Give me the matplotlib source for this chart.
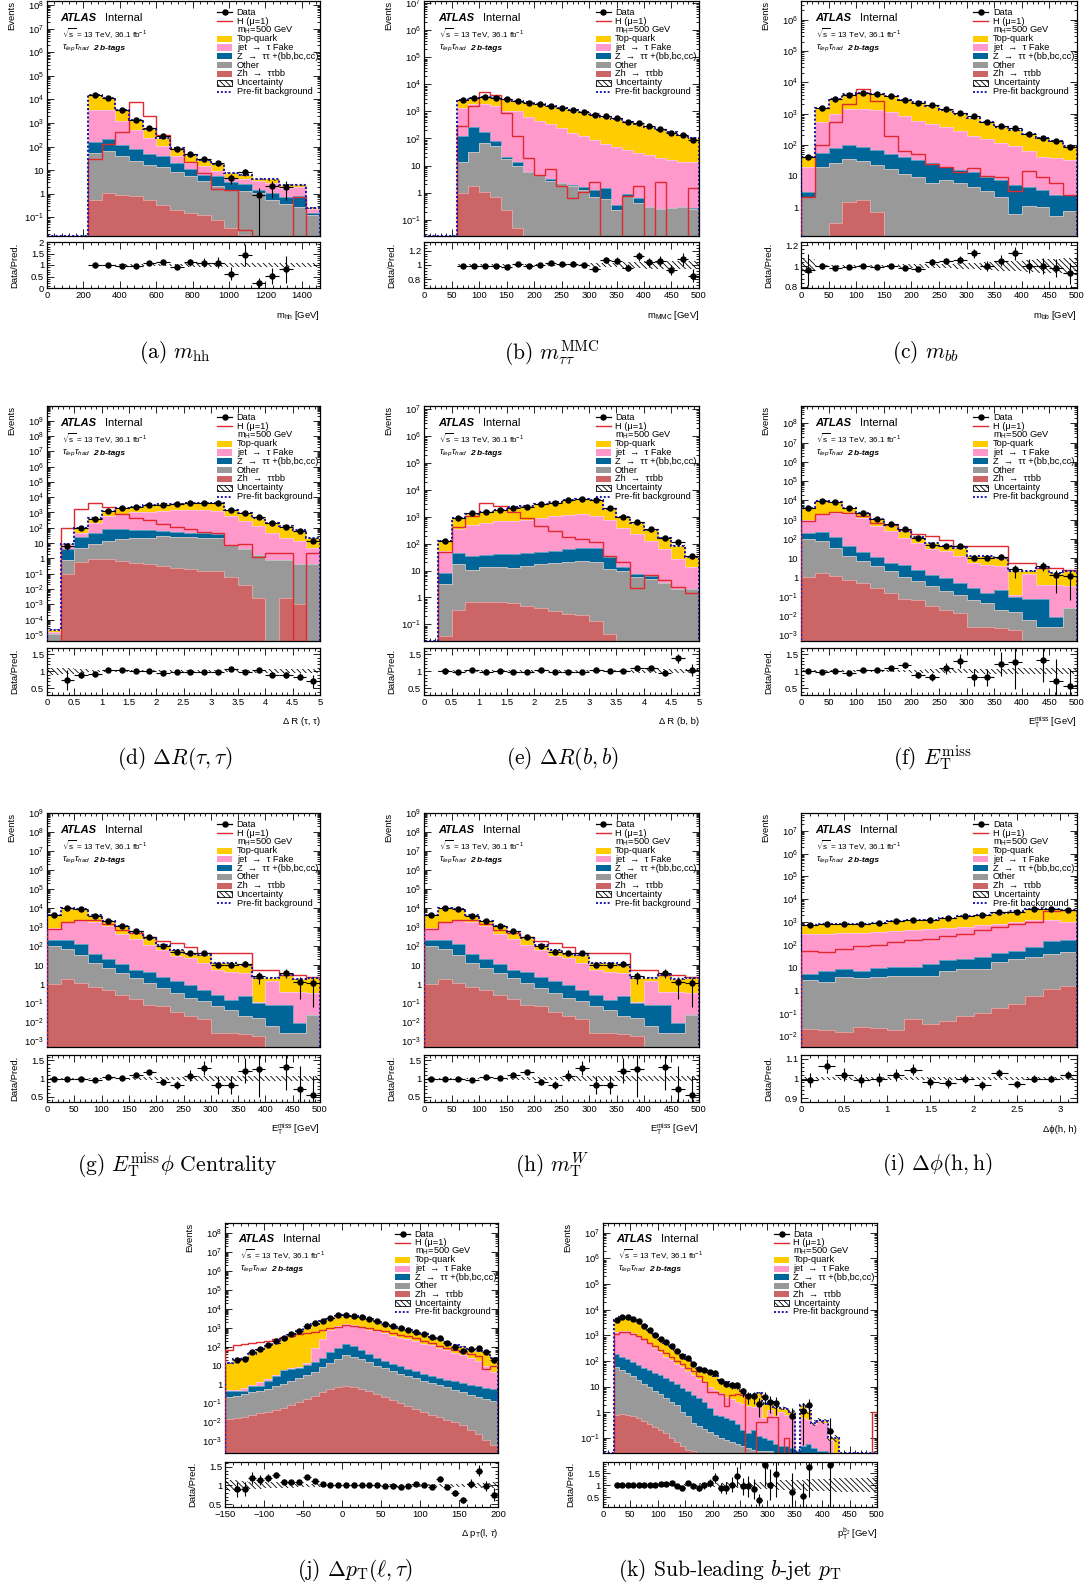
"""ATLAS-style stacked background plots, lep-had 2 b-tag region (11 panels)."""

import numpy as np
import matplotlib

matplotlib.use("Agg")
import matplotlib.pyplot as plt
import matplotlib.colors as mcolors
from matplotlib.lines import Line2D
from matplotlib.patches import Rectangle
from matplotlib.ticker import (AutoMinorLocator, FixedLocator, FuncFormatter,
                               LogLocator, MultipleLocator, NullFormatter)

plt.rcParams["font.family"] = ["Liberation Sans", "DejaVu Sans"]
plt.rcParams["mathtext.fontset"] = "custom"
plt.rcParams["mathtext.rm"] = "Liberation Sans"
plt.rcParams["mathtext.it"] = "Liberation Sans:italic"
plt.rcParams["mathtext.bf"] = "Liberation Sans:bold"
plt.rcParams["hatch.linewidth"] = 0.6

nan = np.nan

# ---- values ------------------------------------------------------------------
# each *_TOP/_FAKE/_ZTT/_OTHER/_ZH array is the upper edge of that stacked layer
# (Top-quark on top, then jet->tau fake, Z->tautau+hf, Other, Zh at the bottom)

# (a) m_hh
A_EDGES = np.linspace(0, 1500, 21)
A_TOP = [0, 0, 0, 15000, 11700, 3700, 1350, 550, 240, 85, 44, 27, 17.5, 7.7, 6.1, 4.4, 4.0, 2.4, 2.4, 0.24]
A_FAKE = [0, 0, 0, 3700, 3600, 1250, 520, 220, 107, 40, 20, 15, 9, 4.7, 4, 3.4, 2.9, 1.75, 1.9, 0.22]
A_ZTT = [0, 0, 0, 160, 205, 118, 77, 50, 40, 20, 10.7, 6.5, 5.5, 3.1, 2.7, 1.5, 1.07, 0.72, 0.77, 0.15]
A_OTHER = [0, 0, 0, 55, 65, 40, 25, 17, 13, 8, 5.5, 3.4, 2.1, 1.5, 1.3, 1.1, 0.55, 0.37, 0.28, 0.12]
A_ZH = [0, 0, 0, 0.55, 1.05, 0.9, 0.77, 0.55, 0.34, 0.2, 0.15, 0.12, 0.08, 0.034, 0.017, 0, 0, 0, 0, 0]
A_SIG = [0, 0, 0, 31, 125, 400, 8000, 2000, 300, 80, 22, 7.7, 1.6, 1.4, 0.03, 0, 0, 0, 0.72, 0]
A_RATIO = [nan, nan, nan, 1.0, 1.0, 0.97, 0.97, 1.1, 1.15, 0.93, 1.12, 1.1, 1.1, 0.62, 1.42, 0.2, 0.52, 0.82, nan, nan]
A_UNC = [0, 0, 0, 0.02, 0.02, 0.03, 0.03, 0.04, 0.05, 0.06, 0.08, 0.08, 0.08, 0.09, 0.1, 0.1, 0.1, 0.1, 0.1, 0.1]

# (b) m_MMC
B_EDGES = np.linspace(0, 500, 26)
B_TOP = [0, 0, 0, 2600, 3100, 3400, 3300, 2900, 2500, 2150, 1850, 1550, 1300, 1100, 930, 780, 640, 520, 420,
         340, 270, 210, 170, 130, 100]
B_FAKE = [0, 0, 0, 1330, 1950, 1950, 1580, 1080, 1000, 600, 440, 330, 245, 165, 122, 86, 64, 48, 37, 30, 24,
          19.5, 16, 13.6, 13]
B_ZTT = [0, 0, 0, 120, 265, 176, 78, 21, 13.6, 5.7, 4.5, 3.2, 2.1, 1.9, 1.55, 1.26, 1.5, 0.36, 0.86, 0.65,
         0.3, 0.25, 0.28, 0.3, 0.28]
B_OTHER = [0, 0, 0, 13.6, 32, 67, 55, 18, 10, 5.7, 4.3, 2.8, 2.25, 1.7, 1.26, 0.7, 0.56, 0.23, 0.75, 0.42,
           0.3, 0.25, 0.27, 0.3, 0.25]
B_ZH = [0, 0, 0, 0.95, 1.8, 1.1, 0.68, 0.23, 0.05, 0, 0, 0, 0, 0, 0, 0, 0, 0, 0, 0, 0, 0, 0, 0, 0]
B_SIG = [0, 0, 0, 290, 1650, 5200, 3900, 850, 120, 19, 4.5, 7.2, 1.8, 0.65, 1.06, 2.4, 0, 0, 0.75, 1.8, 0,
         2.4, 0, 0, 1.5]
B_RATIO = [nan, nan, nan, 0.98, 0.98, 0.98, 0.99, 0.97, 1.01, 0.99, 1.0, 1.03, 1.02, 1.02, 1.0, 0.95, 1.07,
           1.06, 0.96, 1.12, 1.04, 1.05, 0.93, 1.08, 0.85]
B_UNC = [0, 0, 0, 0.01, 0.01, 0.01, 0.01, 0.01, 0.01, 0.01, 0.015, 0.015, 0.02, 0.02, 0.02, 0.03, 0.03, 0.03,
         0.04, 0.04, 0.05, 0.05, 0.06, 0.06, 0.06]

# (c) m_bb
C_EDGES = np.linspace(0, 500, 21)
C_TOP = [42, 1500, 3000, 4100, 4600, 4300, 3600, 2800, 2300, 1750, 1300, 1000, 720, 520, 380, 300, 215, 170, 130, 90]
C_FAKE = [20, 520, 1000, 1400, 1400, 1300, 1100, 860, 590, 460, 360, 280, 190, 150, 115, 90, 62, 42, 37, 33]
C_ZTT = [3.1, 55, 80, 97, 86, 67, 52, 42, 33, 26, 20, 16, 13, 9.5, 7.4, 5.1, 4.5, 3.5, 2.4, 2.4]
C_OTHER = [2.1, 19, 26, 35, 31, 22, 17, 12, 9.5, 6.1, 7.4, 5.8, 4.5, 3.2, 2.1, 0.6, 1.1, 1.0, 0.53, 0.78]
C_ZH = [0, 0, 0.32, 1.5, 1.7, 0.72, 0, 0, 0, 0, 0, 0, 0, 0, 0, 0, 0, 0, 0, 0]
C_SIG = [2.1, 100, 520, 2000, 6300, 2450, 190, 62, 52, 25, 20, 13, 18, 10, 9.5, 3.3, 14, 9.5, 5.8, 2.4]
C_RATIO = [0.96, 1.0, 0.98, 0.99, 1.0, 0.99, 1.0, 0.98, 0.97, 1.04, 1.05, 1.06, 1.12, 1.0, 1.05, 1.12, 1.0, 1.0,
           0.98, 0.93]
C_UNC = [0.07, 0.01, 0.01, 0.01, 0.01, 0.01, 0.01, 0.015, 0.015, 0.02, 0.02, 0.03, 0.03, 0.04, 0.045, 0.05,
         0.06, 0.07, 0.07, 0.08]

# (d) Delta R(tau, tau)
D_EDGES = np.linspace(0, 5, 21)
D_TOP = [2.2e-5, 8.3, 100, 420, 1250, 1900, 2300, 2900, 3400, 3800, 4200, 4400, 4000, 1450, 880, 460, 215, 130, 68, 20]
D_FAKE = [1.5e-5, 7, 48, 190, 590, 760, 1000, 1080, 1250, 1400, 1400, 1400, 1250, 590, 280, 130, 48, 22, 13.6, 5]
D_ZTT = [1.2e-5, 3.9, 25, 48, 80, 80, 68, 68, 62, 53, 48, 43, 41, 8, 3.9, 1.6, 0.74, 0.74, 0.4, 0.45]
D_OTHER = [1.2e-5, 0.78, 5, 9, 13.6, 19, 22, 22, 29, 26, 26, 22, 20, 7.5, 3.9, 1.6, 0.74, 0.74, 0.4, 0.45]
D_ZH = [0, 0.1, 0.6, 0.86, 0.86, 0.67, 0.52, 0.4, 0.3, 0.25, 0.21, 0.16, 0.15, 0.063, 0.018, 0.0026, 0, 0.0026,
        0.0011, 0]
D_SIG = [0, 100, 1600, 4400, 2300, 760, 420, 310, 170, 120, 80, 53, 45, 8, 9, 1.2, 2.3, 2.3, 0, 2.3]
D_RATIO = [nan, 0.73, 0.9, 0.92, 1.03, 1.02, 1.0, 1.0, 0.96, 0.98, 0.99, 0.99, 0.98, 1.06, 0.99, 1.03, 0.89,
           0.89, 0.84, 0.7]
D_UNC = [0.1, 0.08, 0.05, 0.03, 0.02, 0.02, 0.02, 0.02, 0.02, 0.02, 0.02, 0.02, 0.02, 0.03, 0.03, 0.04, 0.05,
         0.05, 0.05, 0.05]

# (e) Delta R(b, b)
E_EDGES = np.linspace(0, 5, 21)
E_TOP = [0, 130, 920, 1300, 1500, 1800, 2200, 2400, 2900, 3400, 4100, 4400, 4100, 2000, 990, 580, 310, 165, 83, 33]
E_FAKE = [0, 55, 360, 480, 580, 700, 700, 780, 920, 1050, 1200, 1240, 1100, 740, 390, 220, 130, 64, 27, 14]
E_ZTT = [0, 8, 44, 36, 39, 42, 42, 44, 48, 55, 64, 70, 68, 31, 13, 7.4, 6, 3.3, 2, 2]
E_OTHER = [0, 3.2, 17, 10.5, 13, 14, 12.5, 14.5, 17.5, 19, 21.5, 23.5, 20, 11.5, 10, 5.6, 4.8, 3.3, 2, 2]
E_ZH = [0, 0.037, 0.33, 0.65, 0.7, 0.69, 0.6, 0.49, 0.4, 0.32, 0.25, 0.22, 0.13, 0.042, 0.025, 0, 0, 0, 0, 0]
E_SIG = [0, 50, 410, 1100, 3300, 2400, 1500, 920, 460, 285, 175, 150, 117, 36, 20, 2.2, 7, 4.6, 2.5, 1.5]
E_RATIO = [nan, 1.0, 0.98, 1.02, 0.99, 1.01, 0.99, 0.98, 1.02, 0.99, 0.99, 0.99, 1.02, 1.01, 1.0, 1.1, 1.1,
           0.95, 1.38, 1.03]
E_UNC = [0, 0.02, 0.02, 0.02, 0.02, 0.02, 0.02, 0.02, 0.02, 0.02, 0.02, 0.02, 0.02, 0.02, 0.03, 0.04, 0.05,
         0.05, 0.05, 0.06]

# (f), (g), (h) missing transverse energy
F_EDGES = np.linspace(0, 500, 21)
F_TOP = [4150, 9800, 8500, 4150, 2100, 1100, 560, 270, 120, 62, 41, 34, 12.5, 12.5, 10, 2.05, 2.2, 3.1, 1.8, 2.05]
F_FAKE = [940, 1900, 2300, 1900, 1150, 460, 250, 112, 62, 31, 23, 13.5, 5.6, 4.6, 3.7, 0.12, 1.5, 0.4, 0.4, 0.35]
F_ZTT = [205, 220, 127, 41, 20, 11.5, 5.6, 4.6, 2.5, 1.4, 0.92, 0.5, 0.28, 0.15, 0.23, 0.1, 0.077, 0.08,
         0.009, 0.025]
F_OTHER = [100, 75, 34, 13.5, 7.4, 3.7, 2.05, 1.1, 0.62, 0.34, 0.19, 0.125, 0.068, 0.046, 0.021, 0.016,
           0.006, 0.0028, 0.0028, 0.025]
F_ZH = [1.0, 1.8, 1.2, 0.75, 0.5, 0.28, 0.165, 0.08, 0.068, 0.033, 0.021, 0.014, 0.0028, 0.0028, 0.0023,
        0.0019, 0, 0, 0, 0]
F_SIG = [830, 1900, 2400, 2300, 1500, 680, 520, 300, 180, 140, 92, 45, 45, 45, 45, 5.6, 5.6, 3.1, 3.1, 2.5]
F_RATIO = [1.0, 0.99, 1.0, 0.96, 1.03, 1.02, 1.1, 1.17, 0.9, 0.82, 1.08, 1.3, 0.82, 0.82, 1.22, 1.27, nan,
           1.33, 0.72, 0.55]
F_UNC = [0.02, 0.02, 0.02, 0.02, 0.02, 0.02, 0.03, 0.03, 0.04, 0.05, 0.06, 0.06, 0.06, 0.07, 0.07, 0.08,
         0.08, 0.08, 0.08, 0.08]

# (i) Delta phi(h, h)
I_EDGES = np.linspace(0, 3.2, 17)
I_TOP = [770, 790, 850, 850, 930, 1070, 1200, 1300, 1500, 1800, 2100, 2600, 3000, 3600, 3900, 3300]
I_FAKE = [290, 310, 330, 340, 360, 390, 430, 480, 530, 600, 720, 850, 1000, 1200, 1270, 1000]
I_ZTT = [5.4, 7, 9, 7.6, 9.9, 10.6, 11.3, 14.8, 21, 25, 29, 44, 57, 80, 150, 157]
I_OTHER = [2.9, 2.3, 4.1, 3.5, 3.8, 4.5, 4.5, 4.3, 7.6, 9, 9, 17.5, 25, 31, 41, 48]
I_ZH = [0.021, 0.018, 0.015, 0.025, 0.023, 0.019, 0.057, 0.034, 0.048, 0.08, 0.11, 0.17, 0.26, 0.6, 1.18, 1.65]
I_SIG = [57, 48, 67, 86, 95, 133, 157, 185, 235, 310, 430, 600, 850, 1000, 3000, 3300]
I_RATIO = [0.99, 1.065, 1.02, 0.99, 0.995, 1.02, 1.045, 0.98, 0.975, 1.0, 0.965, 1.03, 0.97, 1.0, 1.0, 1.02]
I_UNC = [0.01, 0.01, 0.01, 0.01, 0.01, 0.01, 0.01, 0.01, 0.01, 0.01, 0.01, 0.01, 0.01, 0.01, 0.01, 0.01]

# (j) Delta pT(l, tau)
J_EDGES = np.linspace(-150, 200, 36)
J_TOP = [14, 22, 25, 43, 65, 105, 160, 260, 420, 650, 1000, 1500, 2200, 3300, 4400, 4800, 4400, 3700, 2900,
         2200, 1650, 1300, 1000, 740, 580, 440, 320, 240, 170, 125, 98, 70, 58, 50, 25]
J_FAKE = [0.5, 0.5, 0.65, 0.9, 1.3, 2, 3, 6, 7, 8.5, 13, 85, 260, 740, 1200, 1650, 1400, 1070, 800, 650, 500,
          385, 290, 240, 195, 145, 115, 85, 65, 47, 36, 26, 17, 9.3, 4.5]
J_ZTT = [0.45, 0.45, 0.45, 0.8, 0.8, 1.5, 2.75, 5.5, 6.2, 7.6, 11, 15, 26, 53, 80, 130, 105, 70, 43, 26, 17,
         12, 9.3, 6.2, 5, 3.8, 2.75, 2.25, 1.8, 1.5, 1.2, 0.92, 0.8, 0.67, 0.6]
J_OTHER = [0.22, 0.25, 0.3, 0.38, 0.48, 0.6, 0.8, 1.1, 1.5, 2.1, 3, 4.5, 8, 14, 22, 38, 30, 22, 15, 10, 7, 5,
           3.8, 2.8, 2.1, 1.6, 1.2, 0.9, 0.7, 0.5, 0.38, 0.28, 0.22, 0.17, 0.14]
J_ZH = [0.015, 0.017, 0.02, 0.024, 0.03, 0.035, 0.045, 0.06, 0.08, 0.12, 0.18, 0.25, 0.38, 0.55, 0.7, 0.8,
        0.72, 0.6, 0.45, 0.32, 0.22, 0.15, 0.1, 0.07, 0.05, 0.035, 0.025, 0.02, 0.014, 0.01, 0.007, 0.004,
        0.0025, 0.0012, 0.0006]
J_SIG = [70, 120, 130, 150, 175, 210, 260, 320, 380, 450, 520, 620, 780, 950, 1150, 1350, 1300, 1150, 950,
         800, 650, 520, 430, 360, 280, 200, 150, 105, 85, 70, 55, 42, 31, 6.2, 9]
J_RATIO = [nan, 0.9, 0.9, 1.2, 1.15, 1.2, 1.28, 1.1, 1.08, 1.08, 1.22, 1.13, 1.03, 1.0, 1.02, 1.0, 1.0, 1.01,
           1.0, 1.01, 0.99, 0.99, 0.97, 0.98, 1.05, 1.02, 0.97, 1.18, 0.95, 0.8, 0.62, 1.05, 1.4, 0.98, 0.75]
J_UNC = [0.15, 0.15, 0.12, 0.1, 0.1, 0.08, 0.08, 0.07, 0.06, 0.05, 0.04, 0.03, 0.03, 0.02, 0.02, 0.02, 0.02,
         0.02, 0.02, 0.02, 0.02, 0.03, 0.03, 0.03, 0.03, 0.03, 0.04, 0.04, 0.04, 0.05, 0.05, 0.06, 0.06, 0.07,
         0.08]

# (k) sub-leading b-jet pT
K_EDGES = np.linspace(0, 500, 51)
K_TOP = [0, 0, 4000, 5000, 5300, 4500, 3500, 2300, 1550, 1000, 720, 500, 340, 260, 170, 115, 75, 52, 44, 33,
         26, 19, 15, 11, 8.5, 7, 4.5, 5, 5.5, 2.2, 2.5, 1.6, 1.5, 1.4, 1.0, 0.03, 2.0, 1.1, 0.4, 0.5, 0.45,
         0.1, 0.1, 0, 0, 0, 0, 0, 0, 0]
K_FAKE = [0, 0, 1300, 1500, 1450, 1250, 950, 700, 500, 330, 220, 150, 110, 80, 60, 42, 28, 20, 14, 10, 7.5,
          5.5, 4, 3.2, 2.6, 2.2, 1.8, 1.6, 2.0, 0.6, 1.2, 0.7, 1.0, 0.8, 0.7, 0.02, 0.6, 0.5, 0.35, 0.45, 0.4,
          0.08, 0, 0, 0, 0, 0, 0, 0, 0]
K_ZTT = [0, 0, 190, 150, 120, 90, 68, 55, 45, 35, 28, 22, 17, 13, 9, 6.5, 4.7, 3.5, 2.6, 1.5, 0.8, 0.7, 0.6,
         0.5, 0.35, 0.2, 0.15, 0.2, 0.12, 0.1, 0.08, 0.06, 0.05, 0.05, 0.04, 0.03, 0.05, 0.06, 0.04, 0.03,
         0.03, 0, 0, 0, 0, 0, 0, 0, 0, 0]
K_OTHER = [0, 0, 60, 45, 35, 25, 18, 13, 9.5, 7, 5, 3.6, 2.6, 1.9, 1.0, 0.7, 0.4, 0.3, 0.22, 0.17, 0.13, 0.1,
           0.08, 0.07, 0.06, 0.05, 0.04, 0.035, 0.03, 0.03, 0.03, 0, 0, 0, 0, 0, 0, 0, 0, 0, 0, 0, 0, 0, 0,
           0, 0, 0, 0, 0]
K_ZH = [0, 0, 0.8, 0.85, 0.8, 0.7, 0.6, 0.45, 0.35, 0.28, 0.2, 0.15, 0.1, 0.07, 0.05, 0.035, 0.03, 0, 0, 0,
        0, 0, 0, 0, 0, 0, 0, 0, 0, 0, 0, 0, 0, 0, 0, 0, 0, 0, 0, 0, 0, 0, 0, 0, 0, 0, 0, 0, 0, 0]
K_SIG = [0, 0, 1150, 1300, 1300, 1150, 950, 700, 520, 400, 280, 200, 140, 100, 75, 55, 40, 25, 15, 6.3, 6.3,
         5.4, 1.8, 4.7, 5.4, 4.7, 0, 0, 0.43, 0.43, 0.68, 0.68, 0, 0.1, 0, 0, 0, 0, 0, 0, 0, 0, 0, 0, 0, 0, 0,
         0, 0, 1.0]
K_RATIO = [nan, nan, 1.0, 1.0, 1.0, 1.01, 1.0, 0.99, 1.0, 1.02, 1.04, 1.07, 1.1, 0.96, 0.9, 1.1, 0.98, 0.9,
           1.0, 1.1, 1.3, 0.88, 0.88, 1.03, 1.38, 0.95, 0.95, 0.85, 0.38, 1.87, 1.03, 1.47, nan, nan, 0.7, nan,
           0.55, 1.75, nan, nan, nan, 1.87, nan, nan, nan, nan, nan, nan, nan, nan]
K_UNC = [0, 0, 0.02, 0.02, 0.02, 0.02, 0.02, 0.02, 0.02, 0.02, 0.02, 0.02, 0.05, 0.05, 0.05, 0.05, 0.05,
         0.08, 0.08, 0.08, 0.08, 0.08, 0.12, 0.12, 0.12, 0.12, 0.12, 0.15, 0.15, 0.15, 0.15, 0.15, 0.2, 0.2,
         0.2, 0.2, 0.2, 0.25, 0.25, 0.25, 0.25, 0.25, 0.3, 0.3, 0.3, 0.3, 0.3, 0.3, 0.3, 0.3]

# ---- style --------------------------------------------------------------------
COL_TOP = "#ffcc00"
COL_FAKE = "#ff99cc"
COL_ZTT = "#006699"
COL_OTHER = "#999999"
COL_ZH = "#cc6666"
COL_SIG = "#e0282e"
COL_PREFIT = "#1a1aaa"
HATCH = "\\\\\\\\\\\\"

FIG_W, FIG_H = 1092, 1589
ROWS = [(1, 236, 242, 288), (406, 641, 648, 695), (813, 1047, 1055, 1102), (1223, 1453, 1462, 1507)]
COLS = [(47, 320), (424, 699), (801, 1077)]
COLS_LAST = [(225, 498), (603, 877)]
CAPTION_Y = [353, 758, 1165, 1571]


def lighten(color, frac=0.45):
    rgb = np.array(mcolors.to_rgb(color))
    return tuple(rgb + (1 - rgb) * frac)


def px_rect(left, right, top, bottom):
    return [left / FIG_W, 1 - bottom / FIG_H, (right - left) / FIG_W, (bottom - top) / FIG_H]


def log_label(value, _pos):
    if value <= 0:
        return ""
    n = int(round(np.log10(value)))
    if not np.isclose(value, 10.0 ** n):
        return ""
    if n == 0:
        return "1"
    if n == 1:
        return "10"
    return rf"$10^{{{n}}}$"


def plain_label(value, _pos):
    return f"{value:g}".replace("-", "\u2212")


def style_axis(axis):
    axis.tick_params(which="both", direction="in", top=True, right=True, labelsize=6.8, width=0.6, pad=2)
    axis.tick_params(which="major", length=5)
    axis.tick_params(which="minor", length=2.5)
    for spine in axis.spines.values():
        spine.set_linewidth(0.9)


def draw_legend(axis):
    ys = [0.952, 0.9145, 0.877, 0.8395, 0.802, 0.7645, 0.727, 0.6895, 0.652, 0.6145]
    x0, x1, xt = 0.624, 0.679, 0.695
    kw = dict(transform=axis.transAxes, clip_on=False, zorder=20)
    axis.add_line(Line2D([x0, x1], [ys[0]] * 2, color="black", lw=0.9, **kw))
    axis.add_line(Line2D([0.5 * (x0 + x1)], [ys[0]], marker="o", ms=3.6, color="black", lw=0, **kw))
    axis.add_line(Line2D([x0, x1], [ys[1]] * 2, color=COL_SIG, lw=1.0, **kw))
    for y, color in zip(ys[3:8], [COL_TOP, COL_FAKE, COL_ZTT, COL_OTHER, COL_ZH]):
        axis.add_patch(Rectangle((x0, y - 0.013), x1 - x0, 0.026, facecolor=color, edgecolor="none", **kw))
    axis.add_patch(Rectangle((x0, ys[8] - 0.013), x1 - x0, 0.026, facecolor="white", edgecolor="black",
                             hatch=HATCH, lw=0.6, **kw))
    axis.add_line(Line2D([x0, x1], [ys[9]] * 2, color=COL_PREFIT, lw=1.4, linestyle=(0, (1, 1)), **kw))
    labels = ["Data", "H (\u03bc=1)", r"m$_{\rm H}$=500 GeV", "Top-quark", "jet  \u2192  \u03c4 Fake",
              "Z  \u2192  \u03c4\u03c4 +(bb,bc,cc)", "Other", "Zh  \u2192  \u03c4\u03c4bb", "Uncertainty",
              "Pre-fit background"]
    for y, label in zip(ys, labels):
        axis.text(xt, y, label, transform=axis.transAxes, fontsize=6.7, va="center", ha="left",
                  clip_on=True, zorder=20)


def draw_panel(fig, col_px, row_px, edges, top, fake, ztt, other, zh, sig, ratio, unc,
               ylim, rlim, rticks, xstep, xlabel, caption, cap_x, cap_y):
    left, right = col_px
    main_top, main_bottom, ratio_top, ratio_bottom = row_px
    axis = fig.add_axes(px_rect(left, right, main_top, main_bottom))
    raxis = fig.add_axes(px_rect(left, right, ratio_top, ratio_bottom))

    edges = np.asarray(edges, float)
    centers = 0.5 * (edges[1:] + edges[:-1])
    half = 0.5 * np.diff(edges)
    low = ylim[0]
    hidden = low * 1e-3

    levels = [np.asarray(v, float) for v in (zh, other, ztt, fake, top)]
    for i in range(1, len(levels)):
        levels[i] = np.maximum(levels[i], levels[i - 1])
    colors = [COL_ZH, COL_OTHER, COL_ZTT, COL_FAKE, COL_TOP]
    for level, color in zip(levels[::-1], colors[::-1]):
        vals = np.where(level > 0, level, hidden)
        axis.stairs(vals, edges, baseline=hidden, fill=True, color=color, lw=0, zorder=2)
    for level, color in zip(levels[::-1], colors[::-1]):
        vals = np.where(level > 0, level, hidden)
        axis.stairs(vals, edges, color=lighten(color), lw=0.6, zorder=2.5)

    total = levels[-1]
    unc = np.asarray(unc, float)
    has_pred = total > 0
    up = np.where(has_pred, total * (1 + unc), hidden)
    down = np.where(has_pred, total * (1 - unc), hidden)
    axis.stairs(up, edges, baseline=down, fill=True, facecolor="none", edgecolor="black", hatch=HATCH,
                lw=0, zorder=3)

    sig = np.asarray(sig, float)
    axis.stairs(np.where(sig > 0, sig, hidden), edges, color=COL_SIG, lw=1.0, zorder=4)
    axis.stairs(np.maximum(total, low), edges, color=COL_PREFIT, lw=1.5, linestyle=(0, (1, 1)), zorder=5)

    ratio = np.asarray(ratio, float)
    data = ratio * total
    ok = np.isfinite(data) & (data > 0)
    err = np.sqrt(np.where(ok, data, 0))
    err_low = np.minimum(err, data - hidden)
    axis.errorbar(centers[ok], data[ok], xerr=half[ok], yerr=[err_low[ok], err[ok]], fmt="o", color="black",
                  ms=3.6, lw=0.8, capsize=0, zorder=6)

    axis.set_yscale("log")
    axis.set_xlim(edges[0], edges[-1])
    axis.set_ylim(ylim)
    axis.yaxis.set_major_locator(LogLocator(base=10, numticks=40))
    axis.yaxis.set_minor_locator(LogLocator(base=10, subs=np.arange(2, 10), numticks=40))
    axis.yaxis.set_major_formatter(FuncFormatter(log_label))
    axis.yaxis.set_minor_formatter(NullFormatter())
    axis.xaxis.set_major_locator(MultipleLocator(xstep))
    axis.xaxis.set_minor_locator(AutoMinorLocator(5))
    style_axis(axis)
    axis.tick_params(labelbottom=False)
    width_px = right - left
    axis.set_ylabel("Events", fontsize=6.8, loc="top")
    axis.yaxis.set_label_coords(-31 / width_px, 1.0)

    axis.text(0.05, 0.929, "ATLAS", transform=axis.transAxes, fontsize=8, fontweight="bold",
              fontstyle="italic", va="center", zorder=20)
    axis.text(0.213, 0.929, "Internal", transform=axis.transAxes, fontsize=8, va="center", zorder=20)
    axis.text(0.055, 0.861, r"$\sqrt{\rm s}$ = 13 TeV, 36.1 fb$^{-1}$", transform=axis.transAxes,
              fontsize=5.9, va="center", zorder=20)
    axis.text(0.055, 0.797, r"$\tau_{lep}\tau_{had}$", transform=axis.transAxes, fontsize=6.6,
              va="center", zorder=20)
    axis.text(0.168, 0.797, "2 b-tags", transform=axis.transAxes, fontsize=6.0, fontweight="bold",
              fontstyle="italic", va="center", zorder=20)
    draw_legend(axis)

    # ratio pad
    band = np.where(unc > 0, unc, 0)
    raxis.stairs(1 + band, edges, baseline=1 - band, fill=True, facecolor="none", edgecolor="black",
                 hatch=HATCH, lw=0, zorder=2)
    rerr = np.where(ok, err / np.where(has_pred, total, 1), 0)
    raxis.errorbar(centers[ok], ratio[ok], xerr=half[ok], yerr=rerr[ok], fmt="o", color="black", ms=3.6,
                   lw=0.8, capsize=0, zorder=4)
    raxis.set_xlim(edges[0], edges[-1])
    raxis.set_ylim(rlim)
    raxis.yaxis.set_major_locator(FixedLocator(rticks))
    raxis.yaxis.set_major_formatter(FuncFormatter(plain_label))
    raxis.yaxis.set_minor_locator(AutoMinorLocator(5))
    raxis.xaxis.set_major_locator(MultipleLocator(xstep))
    raxis.xaxis.set_minor_locator(AutoMinorLocator(5))
    raxis.xaxis.set_major_formatter(FuncFormatter(plain_label))
    style_axis(raxis)
    ratio_h = ratio_bottom - ratio_top
    raxis.set_ylabel("Data/Pred.", fontsize=6.8)
    raxis.yaxis.set_label_coords(-28 / width_px, 0.5)
    raxis.set_xlabel(xlabel, fontsize=6.8, loc="right", va="center")
    raxis.xaxis.set_label_coords(1.0, -27 / ratio_h)

    fig.text(cap_x / FIG_W, 1 - cap_y / FIG_H, caption, fontsize=15.5, family="cmr10", math_fontfamily="cm",
             ha="center", va="center")


fig = plt.figure(figsize=(FIG_W / 100, FIG_H / 100), dpi=100)
ET_LABEL = r"E$_{\rm T}^{\rm miss}$ [GeV]"

draw_panel(fig, COLS[0], ROWS[0], A_EDGES, A_TOP, A_FAKE, A_ZTT, A_OTHER, A_ZH, A_SIG, A_RATIO, A_UNC,
           (0.016, 1.5e8), (0, 2.0), [0, 0.5, 1, 1.5, 2], 200, r"m$_{\rm hh}$ [GeV]",
           r"(a) $m_{\mathrm{hh}}$", 175, CAPTION_Y[0])
draw_panel(fig, COLS[1], ROWS[0], B_EDGES, B_TOP, B_FAKE, B_ZTT, B_OTHER, B_ZH, B_SIG, B_RATIO, B_UNC,
           (0.025, 1.2e7), (0.68, 1.32), [0.8, 1, 1.2], 50, r"m$_{\rm MMC}$ [GeV]",
           r"(b) $m_{\tau\tau}^{\mathrm{MMC}}$", 552, CAPTION_Y[0])
draw_panel(fig, COLS[2], ROWS[0], C_EDGES, C_TOP, C_FAKE, C_ZTT, C_OTHER, C_ZH, C_SIG, C_RATIO, C_UNC,
           (0.12, 4e6), (0.79, 1.23), [0.8, 1, 1.2], 50, r"m$_{\rm bb}$ [GeV]",
           r"(c) $m_{bb}$", 926, CAPTION_Y[0])
draw_panel(fig, COLS[0], ROWS[1], D_EDGES, D_TOP, D_FAKE, D_ZTT, D_OTHER, D_ZH, D_SIG, D_RATIO, D_UNC,
           (4e-6, 9e9), (0.3, 1.68), [0.5, 1, 1.5], 0.5, "\u0394 R (\u03c4, \u03c4)",
           r"(d) $\Delta R(\tau,\tau)$", 175, CAPTION_Y[1])
draw_panel(fig, COLS[1], ROWS[1], E_EDGES, E_TOP, E_FAKE, E_ZTT, E_OTHER, E_ZH, E_SIG, E_RATIO, E_UNC,
           (0.024, 1.3e7), (0.3, 1.68), [0.5, 1, 1.5], 0.5, "\u0394 R (b, b)",
           r"(e) $\Delta R(b,b)$", 562, CAPTION_Y[1])
draw_panel(fig, COLS[2], ROWS[1], F_EDGES, F_TOP, F_FAKE, F_ZTT, F_OTHER, F_ZH, F_SIG, F_RATIO, F_UNC,
           (5e-4, 8e8), (0.3, 1.68), [0.5, 1, 1.5], 50, ET_LABEL,
           r"(f) $E_{\mathrm{T}}^{\mathrm{miss}}$", 932, CAPTION_Y[1])
draw_panel(fig, COLS[0], ROWS[2], F_EDGES, F_TOP, F_FAKE, F_ZTT, F_OTHER, F_ZH, F_SIG, F_RATIO, F_UNC,
           (5e-4, 1e9), (0.35, 1.65), [0.5, 1, 1.5], 50, ET_LABEL,
           r"(g) $E_{\mathrm{T}}^{\mathrm{miss}}\phi$ Centrality", 177, CAPTION_Y[2])
draw_panel(fig, COLS[1], ROWS[2], F_EDGES, F_TOP, F_FAKE, F_ZTT, F_OTHER, F_ZH, F_SIG, F_RATIO, F_UNC,
           (5e-4, 1e9), (0.35, 1.65), [0.5, 1, 1.5], 50, ET_LABEL,
           r"(h) $m_{\mathrm{T}}^{W}$", 552, CAPTION_Y[2])
draw_panel(fig, COLS[2], ROWS[2], I_EDGES, I_TOP, I_FAKE, I_ZTT, I_OTHER, I_ZH, I_SIG, I_RATIO, I_UNC,
           (3.4e-3, 6e7), (0.88, 1.12), [0.9, 1, 1.1], 0.5, "\u0394\u03d5(h, h)",
           r"(i) $\Delta\phi(\mathrm{h},\mathrm{h})$", 937, CAPTION_Y[2])
draw_panel(fig, COLS_LAST[0], ROWS[3], J_EDGES, J_TOP, J_FAKE, J_ZTT, J_OTHER, J_ZH, J_SIG, J_RATIO, J_UNC,
           (2.4e-4, 3.4e8), (0.42, 1.63), [0.5, 1, 1.5], 50, r"$\Delta$ p$_{\rm T}$(l, $\tau$)",
           r"(j) $\Delta p_{\mathrm{T}}(\ell,\tau)$", 355, CAPTION_Y[3])
draw_panel(fig, COLS_LAST[1], ROWS[3], K_EDGES, K_TOP, K_FAKE, K_ZTT, K_OTHER, K_ZH, K_SIG, K_RATIO, K_UNC,
           (0.026, 2.4e7), (0.08, 1.98), [0.5, 1, 1.5], 50, r"p$_{\rm T}^{\rm b_2}$ [GeV]",
           r"(k) Sub-leading $b$-jet $p_{\mathrm{T}}$", 730, CAPTION_Y[3])

fig.savefig("out.png", dpi=100)
